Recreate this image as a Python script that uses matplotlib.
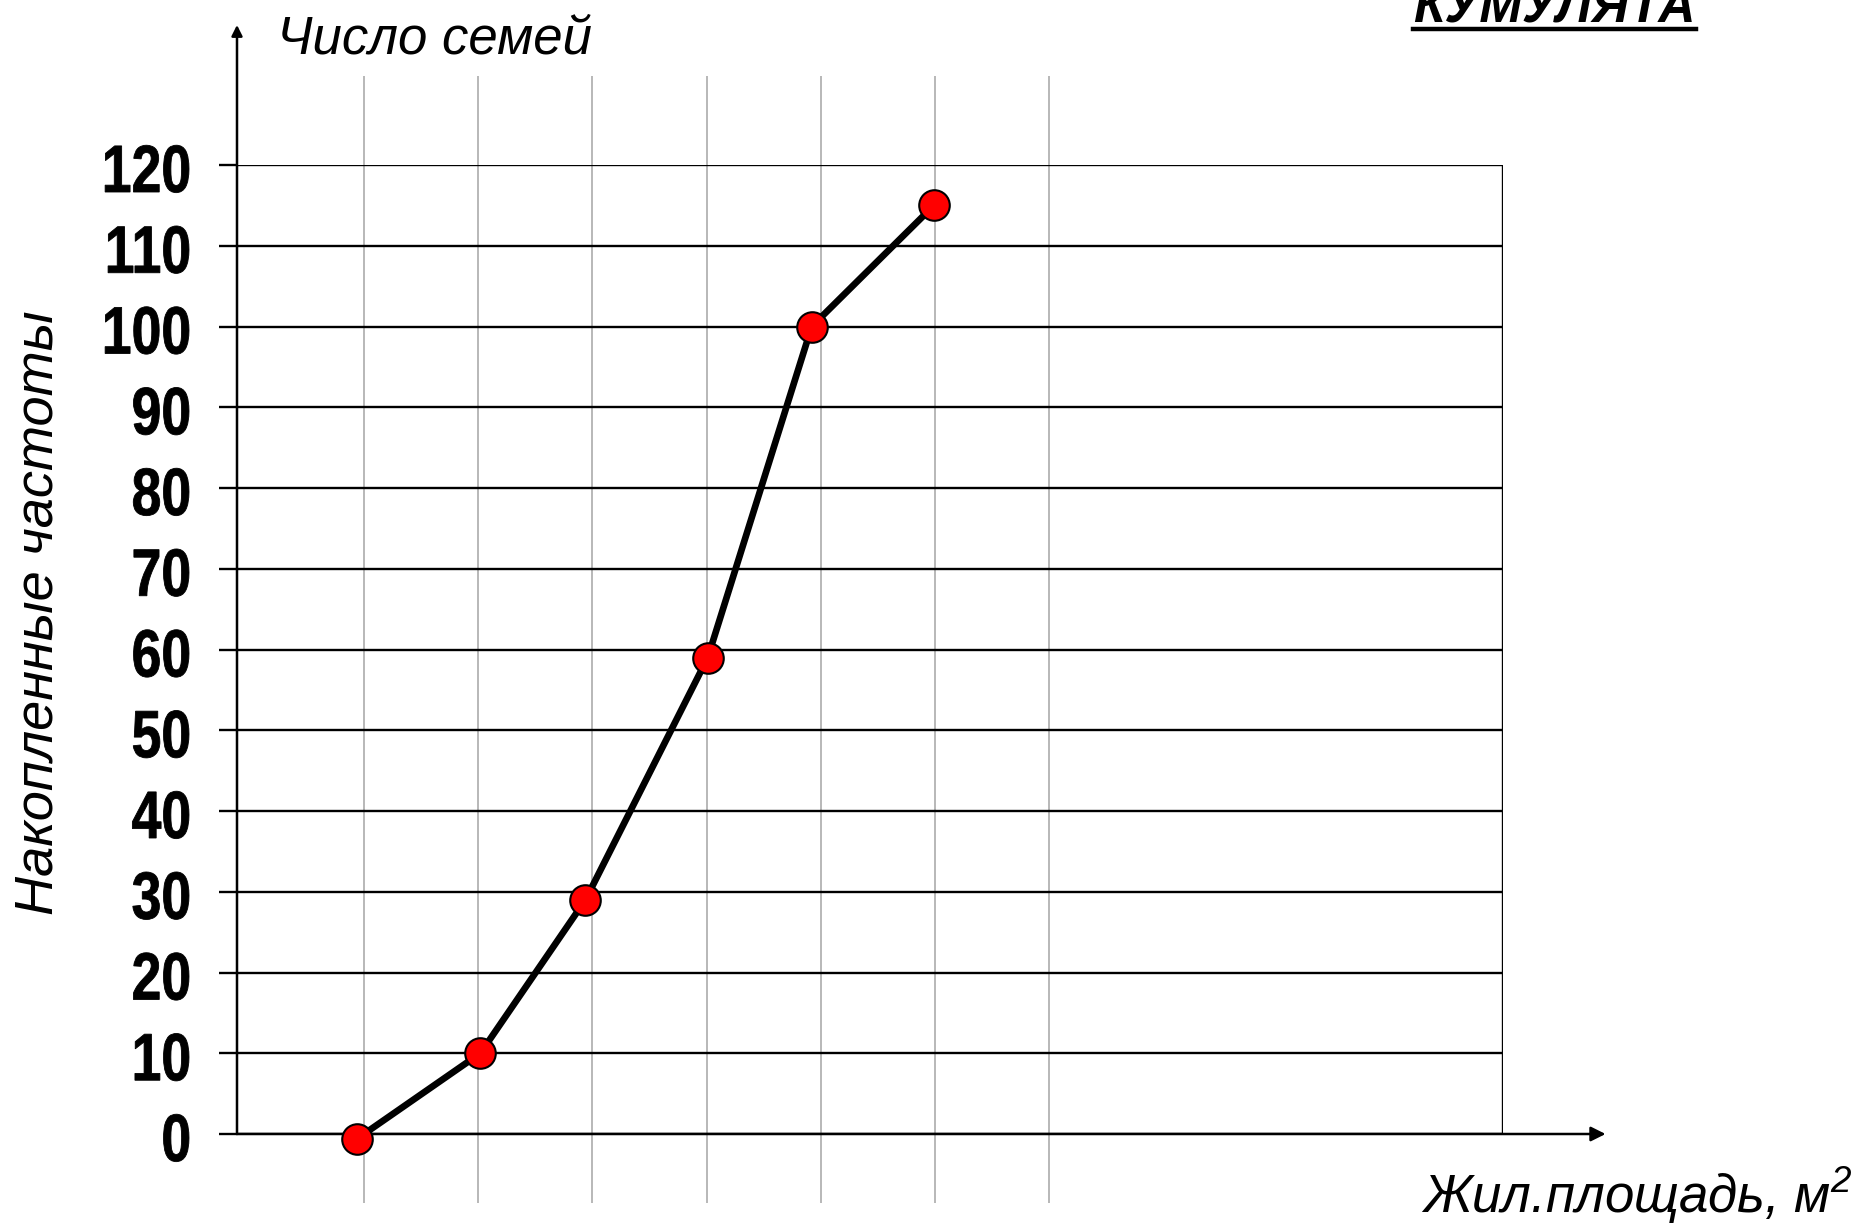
import matplotlib
matplotlib.use("Agg")
import matplotlib.pyplot as plt
from matplotlib.font_manager import FontProperties
from matplotlib.lines import Line2D
from matplotlib.patches import PathPatch
from matplotlib.textpath import TextPath
from matplotlib.transforms import Affine2D, IdentityTransform

# cumulative frequencies
x_pts = [0.94, 2.02, 2.94, 4.01, 4.92, 5.99]
cum_freq = [-0.6, 10, 29, 59, 100, 115]
grid_x = [1, 2, 3, 4, 5, 6, 7]
y_ticks = [0, 10, 20, 30, 40, 50, 60, 70, 80, 90, 100, 110, 120]

title = "КУМУЛЯТА"
x_label = "Жил.площадь, м$^{2}$"
y_label = "Накопленные частоты"
y_top_label = "Число семей"

plt.rcParams["font.family"] = "Liberation Sans"
plt.rcParams["mathtext.fontset"] = "custom"
plt.rcParams["mathtext.rm"] = "Liberation Sans:italic"
plt.rcParams["mathtext.it"] = "Liberation Sans:italic"

W, H = 1862, 1225
fig = plt.figure(figsize=(W / 100, H / 100), dpi=100)
ax = fig.add_axes([237 / W, 1 - 1134 / H, (1503 - 237) / W, (1134 - 165) / H])
ax.set_xlim(-0.11, 10.97)
ax.set_ylim(0, 120)
for s in ax.spines.values():
    s.set_visible(False)

# grid
ax.vlines(grid_x, -8.5, 131, color="#b8b8b8", lw=1.4, zorder=0.8, clip_on=False)
ax.hlines(y_ticks, -0.11, 10.97, color="black", lw=1.7, zorder=1)
ax.plot([1, 1], [0, 1], transform=ax.transAxes, color="black", lw=1.7, zorder=1)

# axes arrows
ax.annotate("", xy=(1.081, 0), xytext=(0, 0), xycoords=ax.transAxes,
            arrowprops=dict(arrowstyle="-|>", mutation_scale=22, lw=1.8, color="black",
                            shrinkA=0, shrinkB=0), annotation_clip=False)
ax.annotate("", xy=(0, 1.1445), xytext=(0, 0), xycoords=ax.transAxes,
            arrowprops=dict(arrowstyle="-|>", mutation_scale=16, lw=1.8, color="black",
                            shrinkA=0, shrinkB=0), annotation_clip=False)

ax.set_xticks([])
ax.set_yticks(y_ticks)
ax.set_yticklabels([])
ax.tick_params(axis="y", length=13, width=1.7, direction="out")

# data
ax.plot(x_pts, cum_freq, color="black", lw=4.8, zorder=3, clip_on=False,
        marker="o", markersize=22, markerfacecolor="#ff0000",
        markeredgecolor="black", markeredgewidth=1.5)

# condensed bold tick labels (no narrow font installed, so squeeze the glyphs)
fig.canvas.draw()
bold = FontProperties(family="Liberation Sans", weight="bold")
for v in y_ticks:
    tp = TextPath((0, 0), str(v), size=67, prop=bold)
    ext = tp.get_extents()
    _, py = ax.transData.transform((0, v))
    sx = 0.80
    tr = Affine2D().scale(sx, 1).translate(189 - ext.x1 * sx, py - 24 - 3)
    fig.add_artist(PathPatch(tr.transform_path(tp), transform=IdentityTransform(),
                             facecolor="black", edgecolor="black", lw=0.6))

# texts
fig.text(39 / W, 1 - 613 / H, y_label, rotation=90, ha="center", va="center",
         fontsize=39, style="italic")
fig.text(277 / W, 1 - 53 / H, y_top_label, ha="left", va="baseline",
         fontsize=38, style="italic")
fig.text(1852 / W, 1 - 1213 / H, x_label, ha="right", va="baseline",
         fontsize=38, style="italic")
t = fig.text(1413 / W, 1 - 22 / H, title, ha="left", va="baseline",
             fontsize=37, fontweight="bold", style="italic")

# underline the title
fig.canvas.draw()
bb = t.get_window_extent()
uy = 1 - 28.5 / H
fig.add_artist(Line2D([bb.x0 / W, bb.x1 / W], [uy, uy], color="black", lw=3.2))

fig.savefig("out.png", dpi=100)
